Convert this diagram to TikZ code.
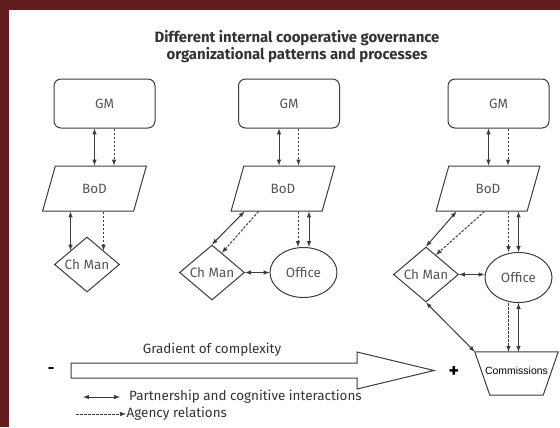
\documentclass[tikz,border=0pt]{standalone}
\usepackage{fontspec}
\setmainfont{Fira Sans}
\newfontfamily\arialfont{Liberation Sans}
\usetikzlibrary{arrows,shapes.geometric,calc}

\definecolor{frame}{RGB}{96,31,30}
\definecolor{ink}{RGB}{60,60,60}
\definecolor{txt}{RGB}{85,85,85}

\tikzset{
	gm/.style={draw=ink, line width=1bp, rounded corners=7bp, minimum width=101bp, minimum height=49bp, text=txt, font=\fontsize{13.5}{15}\selectfont},
	bod/.style={draw=ink, line width=1bp, trapezium, trapezium left angle=67, trapezium right angle=113, trapezium stretches=true, minimum width=104bp, minimum height=45bp, inner sep=0pt, text=txt, font=\fontsize{13.5}{15}\selectfont},
	chman/.style={draw=ink, line width=1bp, diamond, minimum width=65bp, minimum height=55bp, inner sep=0pt, text=txt, font=\fontsize{13.5}{15}\selectfont},
	office/.style={draw=ink, line width=1bp, ellipse, minimum width=67bp, minimum height=50bp, inner sep=0pt, text=txt, font=\fontsize{13.5}{15}\selectfont},
	comm/.style={minimum width=83bp, minimum height=43bp, inner sep=0pt, font=\arialfont\fontsize{10.5}{12}\selectfont},
	partner/.style={draw=ink, line width=1bp, latex-latex},
	agency/.style={draw=ink, line width=1bp, dash pattern=on 2.5bp off 1.5bp, -latex},
	plain/.style={text=black!80, font=\fontsize{13.5}{15}\selectfont},
}

\begin{document}
\begin{tikzpicture}[x=1bp, y=-1bp]
	\useasboundingbox (0,0) rectangle (560,427);
	\fill[frame] (0,0) rectangle (560,427);
	\fill[white] (9,10) rectangle (560,427);

	\node[text=black!80, font=\bfseries\fontsize{15}{17}\selectfont, align=center] (title) at (297,46.5)
		{Different internal cooperative governance\\organizational patterns and processes};

	% first pattern
	\node[gm] (gmA) at (104.5,103.5) {GM};
	\node[bod] (bodA) at (94.5,188.5) {BoD};
	\node[chman] (chA) at (87,264.5) {Ch Man};

	% second pattern
	\node[gm] (gmB) at (289,103.5) {GM};
	\node[bod] (bodB) at (283,188.5) {BoD};
	\node[chman] (chB) at (212,272.5) {Ch Man};
	\node[office] (offB) at (303.5,272.5) {Office};

	% third pattern
	\node[gm] (gmC) at (498.5,103.5) {GM};
	\node[bod] (bodC) at (488,188.5) {BoD};
	\node[chman] (chC) at (426,274.5) {Ch Man};
	\node[office] (offC) at (518.5,277.5) {Office};
	\node[comm] (comm) at (516.5,373.5) {\raisebox{6bp}{Commissions}};
	\draw[ink, line width=1bp] (comm.north west) -- (comm.north east) -- ([xshift=-15bp]comm.south east)
		-- ([xshift=15bp]comm.south west) -- cycle;

	\draw[partner] ([xshift=-10bp]gmA.south) -- ([xshift=-10bp]gmA.south |- bodA.north);
	\draw[agency] ([xshift=9.5bp]gmA.south) -- ([xshift=9.5bp]gmA.south |- bodA.north);
	\draw[partner] (bodA.south -| chA.north west) -- (chA.north west);
	\draw[agency] (bodA.south -| chA.north east) -- (chA.north east);

	\draw[partner] ([xshift=-10bp]gmB.south) -- ([xshift=-10bp]gmB.south |- bodB.north);
	\draw[agency] ([xshift=9.5bp]gmB.south) -- ([xshift=9.5bp]gmB.south |- bodB.north);
	\draw[partner] (chB.north) -- ([xshift=14bp]bodB.bottom left corner);
	\draw[agency] ([xshift=28bp]bodB.bottom left corner) -- ($(chB.north)!0.3!(chB.east)$);
	\draw[agency] ([xshift=-5.5bp]offB.north |- bodB.south) -- ([xshift=-5.5bp]offB.north);
	\draw[partner] ([xshift=5.5bp]offB.north |- bodB.south) -- ([xshift=5.5bp]offB.north);
	\draw[partner] (chB.east) -- (offB.west);

	\draw[partner] ([xshift=-10bp]gmC.south) -- ([xshift=-10bp]gmC.south |- bodC.north);
	\draw[agency] ([xshift=9.5bp]gmC.south) -- ([xshift=9.5bp]gmC.south |- bodC.north);
	\draw[partner] (chC.north) -- ([xshift=21bp]bodC.bottom left corner);
	\draw[agency] ([xshift=49bp]bodC.bottom left corner) -- ($(chC.north)!0.3!(chC.east)$);
	\draw[agency] ([xshift=-10bp]offC.north |- bodC.south) -- ([xshift=-10bp]offC.north);
	\draw[partner] (offC.north |- bodC.south) -- (offC.north);
	\draw[partner] (chC.east) -- (chC.east -| offC.west);
	\draw[agency] ([xshift=-10bp]offC.south) -- ([xshift=-10bp]offC.south |- comm.north);
	\draw[partner] (offC.south) -- (offC.south |- comm.north);
	\draw[partner] (chC.south) -- (comm.north west);

	% gradient
	\draw[ink, line width=1bp] (71,363) -- (357,363) -- (357,352) -- (434,370.5) -- (357,389) -- (357,378) -- (71,378) -- cycle;
	\node[plain] (grad) at (212,350) {Gradient of complexity};
	\node[text=black, font=\bfseries\fontsize{16}{16}\selectfont] (minus) at (51,371) {-};
	\node[text=black, font=\bfseries\fontsize{20}{20}\selectfont] (plus) at (454,372) {+};

	% legend
	\coordinate (pa) at (83,397);
	\coordinate (pb) at (120,397);
	\coordinate (aa) at (76,414);
	\coordinate (ab) at (126,414);
	\draw[partner] (pa) -- (pb);
	\draw[agency] (aa) -- (ab);
	\node[plain, anchor=west, inner sep=0pt] (ptext) at (129,397) {Partnership and cognitive interactions};
	\node[plain, anchor=west, inner sep=0pt] (atext) at (126.5,414) {Agency relations};
\end{tikzpicture}
\end{document}
